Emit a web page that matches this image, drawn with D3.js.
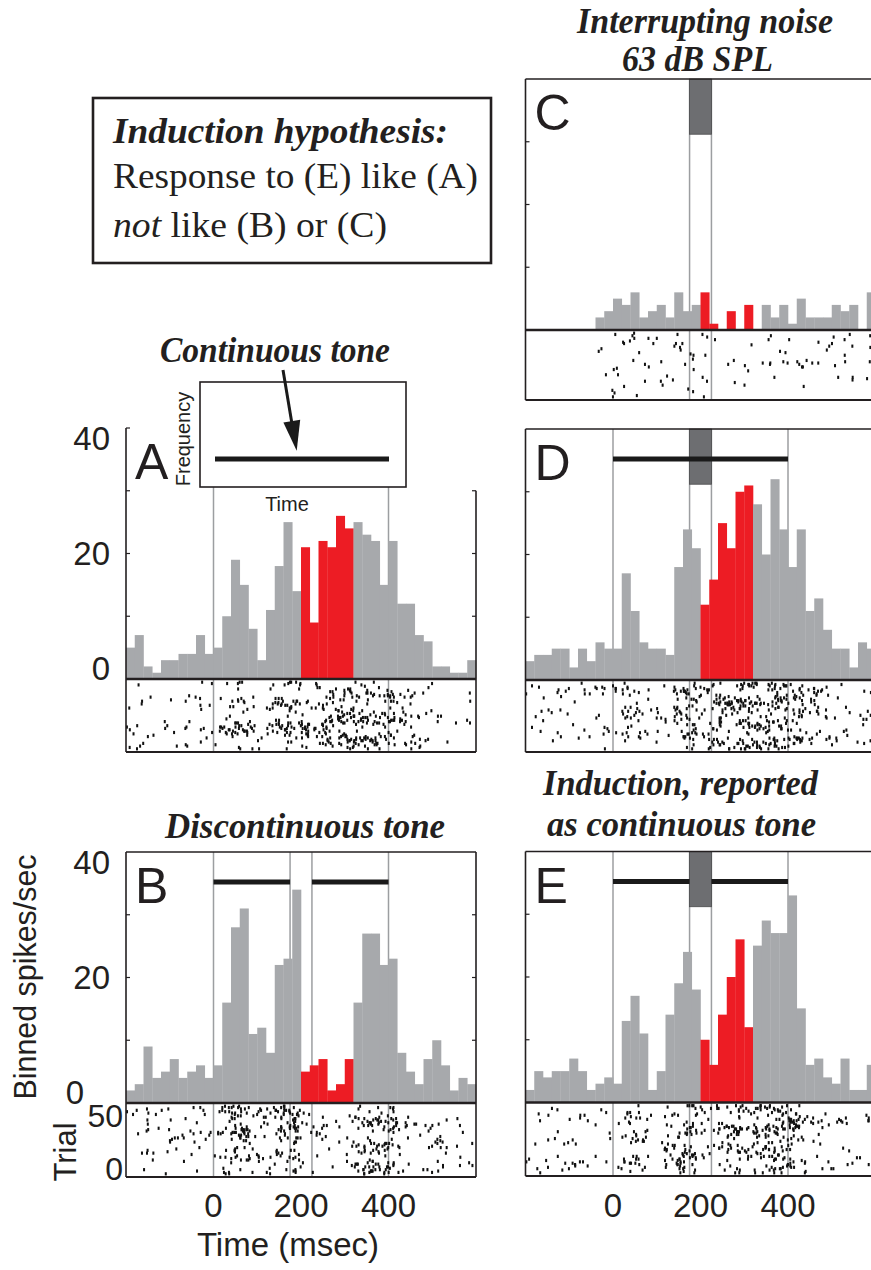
<!DOCTYPE html>
<html>
<head>
<meta charset="utf-8">
<script src="https://cdn.jsdelivr.net/npm/d3@7"></script>
<style>
  body { margin: 0; background: #fff; }
  svg { display: block; }
</style>
</head>
<body>
<script>
// binned spike rates (spikes/sec), 20 ms bins from -200 to 600 ms
var binStartMs = -200;
var binMs = 20;

var ratesA = [5,7,2,1,3,3,4,4,7,4, 5,10,19,15,8,3,11,18,25,14,
              21,9,22,21,26,24,25,23,22,15, 22,12,12,7,6,2,2,1,1,3];
var ratesB = [2,3,9,4,5,7,4,5,6,4, 6,16,28,31,11,12,8,22,23,34,
              5,6,7,2,3,7,16,27,27,22, 23,8,5,3,7,10,6,2,4,3];
var ratesC = [0,0,0,0,0,0,0,0,2,3, 5,4,6,2,3,4,2,6,3,4,
              6,1,0,3,0,4,0,4,2,4, 1,5,2,2,2,4,3,4,0,6];
var ratesD = [3,4,4,5,5,2,5,3,6,5, 5,17,11,6,5,5,4,18,24,21,
              12,16,25,21,30,31,28,20,32,24, 18,24,11,13,8,5,5,2,6,5];
var ratesE = [2,5,4,5,5,7,5,2,3,4, 3,13,17,11,2,5,14,19,24,18,
              10,6,14,20,26,12,25,29,27,27, 33,15,6,7,4,3,7,2,2,6];

// analysis window (red bins), stimulus timing in ms
var countWindow = [200, 320];
var noiseGap = [175, 225];
var toneFull = [[0, 400]];
var toneSplit = [[0, 175], [225, 400]];

var rateTicks = [0, 20, 40];
var minorRateTicks = [10, 20, 30];
var timeTicks = [0, 200, 400];
var trialTicks = [0, 50];

var W = 871, H = 1270;
var svg = d3.select('body').append('svg').attr('width', W).attr('height', H);

var sans = 'Liberation Sans, Arial, sans-serif';
var serif = 'Liberation Serif, Times New Roman, serif';

var grey = '#a7a9ac', red = '#ed1c24', eventGrey = '#9c9ea1';

// scatter of the raster ticks: integer hash, so spikes of one bin land on varied trials
var spikeIndex = 0;
function scatter(n) {
  n = (n ^ 61) ^ (n >>> 16);
  n = n + (n << 3);
  n = n ^ (n >>> 4);
  n = Math.imul(n, 0x27d4eb2d);
  n = n ^ (n >>> 15);
  return (n >>> 0) / 4294967296;
}

function panel(o) {
  var x = d3.scaleLinear().domain([-200, 600]).range([o.left, o.left + 350]);
  var y = d3.scaleLinear().domain([0, 40]).range([o.base, o.base - 251]);
  var trialY = d3.scaleLinear().domain([0, 50]).range([o.rasterBottom - 2.5, o.base + 2.5]);
  var g = svg.append('g');

  // event lines (onsets/offsets)
  g.selectAll('line.ev').data(o.events).enter().append('line')
    .attr('x1', function(d) { return x(d); })
    .attr('x2', function(d) { return x(d); })
    .attr('y1', y(40))
    .attr('y2', o.rasterBottom)
    .attr('stroke', eventGrey)
    .attr('stroke-width', 1.5);

  var bins = o.rates.map(function(v, i) {
    return {t0: binStartMs + i * binMs, v: v};
  });

  g.selectAll('rect.bar').data(bins).enter().append('rect')
    .attr('x', function(d) { return x(d.t0); })
    .attr('width', x(binMs) - x(0) + 0.3)
    .attr('y', function(d) { return y(d.v); })
    .attr('height', function(d) { return y(0) - y(d.v); })
    .attr('fill', function(d) {
      return d.t0 >= countWindow[0] && d.t0 < countWindow[1] ? red : grey;
    });

  // raster: each bin holds rate x 50 trials x 20 ms = rate spikes
  var spikes = [];
  bins.forEach(function(b) {
    for (var k = 0; k < b.v; k++) {
      spikeIndex++;
      var u = scatter(2 * spikeIndex + 7);
      var w = scatter(2 * spikeIndex + 8);
      spikes.push({t: b.t0 + u * binMs, trial: Math.floor(w * 50) + 0.5});
    }
  });
  g.selectAll('rect.spk').data(spikes).enter().append('rect')
    .attr('x', function(d) { return x(d.t) - 1; })
    .attr('y', function(d) { return trialY(d.trial) - 1.6; })
    .attr('width', 2)
    .attr('height', 3.2)
    .attr('fill', '#111');

  // noise burst
  if (o.noise) {
    g.append('rect')
      .attr('x', x(o.noise[0]))
      .attr('y', y(40))
      .attr('width', x(o.noise[1]) - x(o.noise[0]))
      .attr('height', y(31.2) - y(40))
      .attr('fill', '#6d6e71')
      .attr('stroke', '#4a4a4c')
      .attr('stroke-width', 0.8);
  }

  // tone bars
  if (o.tone) {
    g.selectAll('line.tone').data(o.tone).enter().append('line')
      .attr('x1', function(d) { return x(d[0]); })
      .attr('x2', function(d) { return x(d[1]); })
      .attr('y1', y(35.2))
      .attr('y2', y(35.2))
      .attr('stroke', '#1a1a1a')
      .attr('stroke-width', 5);
  }

  // frame
  var frame = g.append('g').attr('stroke', '#231f20').attr('fill', 'none');
  frame.append('line')
    .attr('x1', x(-200)).attr('x2', x(-200))
    .attr('y1', y(40)).attr('y2', o.rasterBottom)
    .attr('stroke-width', 1.6);
  frame.append('line')
    .attr('x1', x(600)).attr('x2', x(600))
    .attr('y1', y(o.rightTop || 40)).attr('y2', o.rasterBottom)
    .attr('stroke-width', 1.6);
  if (o.topLine) {
    frame.append('line')
      .attr('x1', x(-200)).attr('x2', x(600))
      .attr('y1', y(40)).attr('y2', y(40))
      .attr('stroke-width', 1.6);
  }
  frame.append('line')
    .attr('x1', x(-200)).attr('x2', x(600))
    .attr('y1', y(0)).attr('y2', y(0))
    .attr('stroke-width', 2.6);
  frame.append('line')
    .attr('x1', x(-200)).attr('x2', x(600))
    .attr('y1', o.rasterBottom).attr('y2', o.rasterBottom)
    .attr('stroke-width', 2.2);

  var tickVals = o.topLine ? minorRateTicks : minorRateTicks.concat([40]);
  frame.selectAll('line.lt').data(tickVals).enter().append('line')
    .attr('x1', x(-200)).attr('x2', x(-200) + 4)
    .attr('y1', function(d) { return y(d); })
    .attr('y2', function(d) { return y(d); })
    .attr('stroke-width', 1.2);
  frame.selectAll('line.rt').data(tickVals.filter(function(d) { return d <= (o.rightTop || 40); }))
    .enter().append('line')
    .attr('x1', x(600)).attr('x2', x(600) - 4)
    .attr('y1', function(d) { return y(d); })
    .attr('y2', function(d) { return y(d); })
    .attr('stroke-width', 1.2);

  // panel letter
  g.append('text')
    .attr('x', x(-200) + 9)
    .attr('y', y(40) + 51)
    .attr('font-family', sans)
    .attr('font-size', 50)
    .attr('fill', '#231f20')
    .text(o.letter);

  // rate labels
  if (o.rateLabels) {
    g.selectAll('text.rl').data(rateTicks).enter().append('text')
      .attr('x', function(d) { return d === 0 ? o.zeroLabelX : 110; })
      .attr('y', function(d) {
        return y(d) + (d === 40 ? 10 : d === 0 ? -11 : 0);
      })
      .attr('dy', '0.35em')
      .attr('text-anchor', 'end')
      .attr('font-family', sans)
      .attr('font-size', 33)
      .attr('fill', '#231f20')
      .text(function(d) { return d; });
  }

  if (o.trialLabels) {
    g.selectAll('text.tl').data(trialTicks).enter().append('text')
      .attr('x', 123)
      .attr('y', function(d) { return trialY(d) + (d === 50 ? 10 : -6); })
      .attr('dy', '0.35em')
      .attr('text-anchor', 'end')
      .attr('font-family', sans)
      .attr('font-size', 32)
      .attr('fill', '#231f20')
      .text(function(d) { return d; });
  }

  if (o.timeLabels) {
    g.selectAll('text.xl').data(timeTicks).enter().append('text')
      .attr('x', function(d) { return x(d); })
      .attr('y', 1217)
      .attr('text-anchor', 'middle')
      .attr('font-family', sans)
      .attr('font-size', 33)
      .attr('fill', '#231f20')
      .text(function(d) { return d; });
  }
  return x;
}

panel({letter: 'A', rates: ratesA, left: 126, base: 679, rasterBottom: 752,
       events: [0, 400], topLine: false, rightTop: 30,
       rateLabels: true, zeroLabelX: 110});
panel({letter: 'B', rates: ratesB, left: 126, base: 1103, rasterBottom: 1177,
       events: [0, 175, 225, 400], tone: toneSplit, topLine: true,
       rateLabels: true, zeroLabelX: 84, trialLabels: true, timeLabels: true});
panel({letter: 'C', rates: ratesC, left: 525.5, base: 330, rasterBottom: 400,
       events: noiseGap, noise: noiseGap, topLine: true});
panel({letter: 'D', rates: ratesD, left: 525.5, base: 680, rasterBottom: 752,
       events: [0, 175, 225, 400], noise: noiseGap, tone: toneFull, topLine: true});
panel({letter: 'E', rates: ratesE, left: 525.5, base: 1102.5, rasterBottom: 1176,
       events: [0, 175, 225, 400], noise: noiseGap, tone: toneSplit, topLine: true,
       timeLabels: true});

// inset schematic for panel A
var inset = svg.append('g');
inset.append('rect')
  .attr('x', 200).attr('y', 382).attr('width', 206).attr('height', 105)
  .attr('fill', '#fff').attr('stroke', '#231f20').attr('stroke-width', 1.6);
var insetX = d3.scaleLinear().domain([0, 400]).range([215, 389]);
inset.selectAll('line.it').data(toneFull).enter().append('line')
  .attr('x1', function(d) { return insetX(d[0]); })
  .attr('x2', function(d) { return insetX(d[1]); })
  .attr('y1', 459).attr('y2', 459)
  .attr('stroke', '#1a1a1a').attr('stroke-width', 5);
inset.append('text')
  .attr('transform', 'translate(190,439) rotate(-90)')
  .attr('text-anchor', 'middle')
  .attr('font-family', sans).attr('font-size', 20).attr('fill', '#231f20')
  .text('Frequency');
inset.append('text')
  .attr('x', 287).attr('y', 511)
  .attr('text-anchor', 'middle')
  .attr('font-family', sans).attr('font-size', 20).attr('fill', '#231f20')
  .text('Time');

// arrow to the continuous tone
svg.append('line')
  .attr('x1', 283).attr('y1', 370).attr('x2', 292).attr('y2', 424)
  .attr('stroke', '#1a1a1a').attr('stroke-width', 3);
svg.append('path')
  .attr('d', 'M296.7,450.7 L283.4,422.5 L300.2,419.7 Z')
  .attr('fill', '#1a1a1a');

// hypothesis box
svg.append('rect')
  .attr('x', 93).attr('y', 98).attr('width', 398).attr('height', 165)
  .attr('fill', 'none').attr('stroke', '#231f20').attr('stroke-width', 2.6);
svg.append('text')
  .attr('x', 113).attr('y', 143)
  .attr('font-family', serif).attr('font-size', 35)
  .attr('font-weight', 'bold').attr('font-style', 'italic')
  .attr('textLength', 335).attr('lengthAdjust', 'spacingAndGlyphs')
  .attr('fill', '#231f20')
  .text('Induction hypothesis:');
svg.append('text')
  .attr('x', 113).attr('y', 188)
  .attr('font-family', serif).attr('font-size', 35)
  .attr('textLength', 365).attr('lengthAdjust', 'spacingAndGlyphs')
  .attr('fill', '#231f20')
  .text('Response to (E) like (A)');
var notLine = svg.append('text')
  .attr('x', 113).attr('y', 237)
  .attr('font-family', serif).attr('font-size', 35)
  .attr('textLength', 274).attr('lengthAdjust', 'spacingAndGlyphs')
  .attr('fill', '#231f20');
notLine.append('tspan').attr('font-style', 'italic').text('not');
notLine.append('tspan').text(' like (B) or (C)');

// titles
var titles = [
  {text: 'Interrupting noise', x: 577, y: 33, w: 256},
  {text: '63 dB SPL', x: 622, y: 71, w: 151},
  {text: 'Continuous tone', x: 160, y: 362, w: 230},
  {text: 'Discontinuous tone', x: 165, y: 838, w: 280},
  {text: 'Induction, reported', x: 543, y: 795, w: 275},
  {text: 'as continuous tone', x: 547, y: 836, w: 269}
];
svg.selectAll('text.title').data(titles).enter().append('text')
  .attr('x', function(d) { return d.x; })
  .attr('y', function(d) { return d.y; })
  .attr('font-family', serif).attr('font-size', 36)
  .attr('font-weight', 'bold').attr('font-style', 'italic')
  .attr('textLength', function(d) { return d.w; })
  .attr('lengthAdjust', 'spacingAndGlyphs')
  .attr('fill', '#231f20')
  .text(function(d) { return d.text; });

// axis titles
svg.append('text')
  .attr('transform', 'translate(36,977) rotate(-90)')
  .attr('text-anchor', 'middle')
  .attr('font-family', sans).attr('font-size', 31)
  .attr('textLength', 245).attr('lengthAdjust', 'spacingAndGlyphs')
  .attr('fill', '#231f20')
  .text('Binned spikes/sec');
svg.append('text')
  .attr('transform', 'translate(76,1152) rotate(-90)')
  .attr('text-anchor', 'middle')
  .attr('font-family', sans).attr('font-size', 31)
  .attr('fill', '#231f20')
  .text('Trial');
svg.append('text')
  .attr('x', 288).attr('y', 1256)
  .attr('text-anchor', 'middle')
  .attr('font-family', sans).attr('font-size', 33)
  .attr('fill', '#231f20')
  .text('Time (msec)');
</script>
</body>
</html>
